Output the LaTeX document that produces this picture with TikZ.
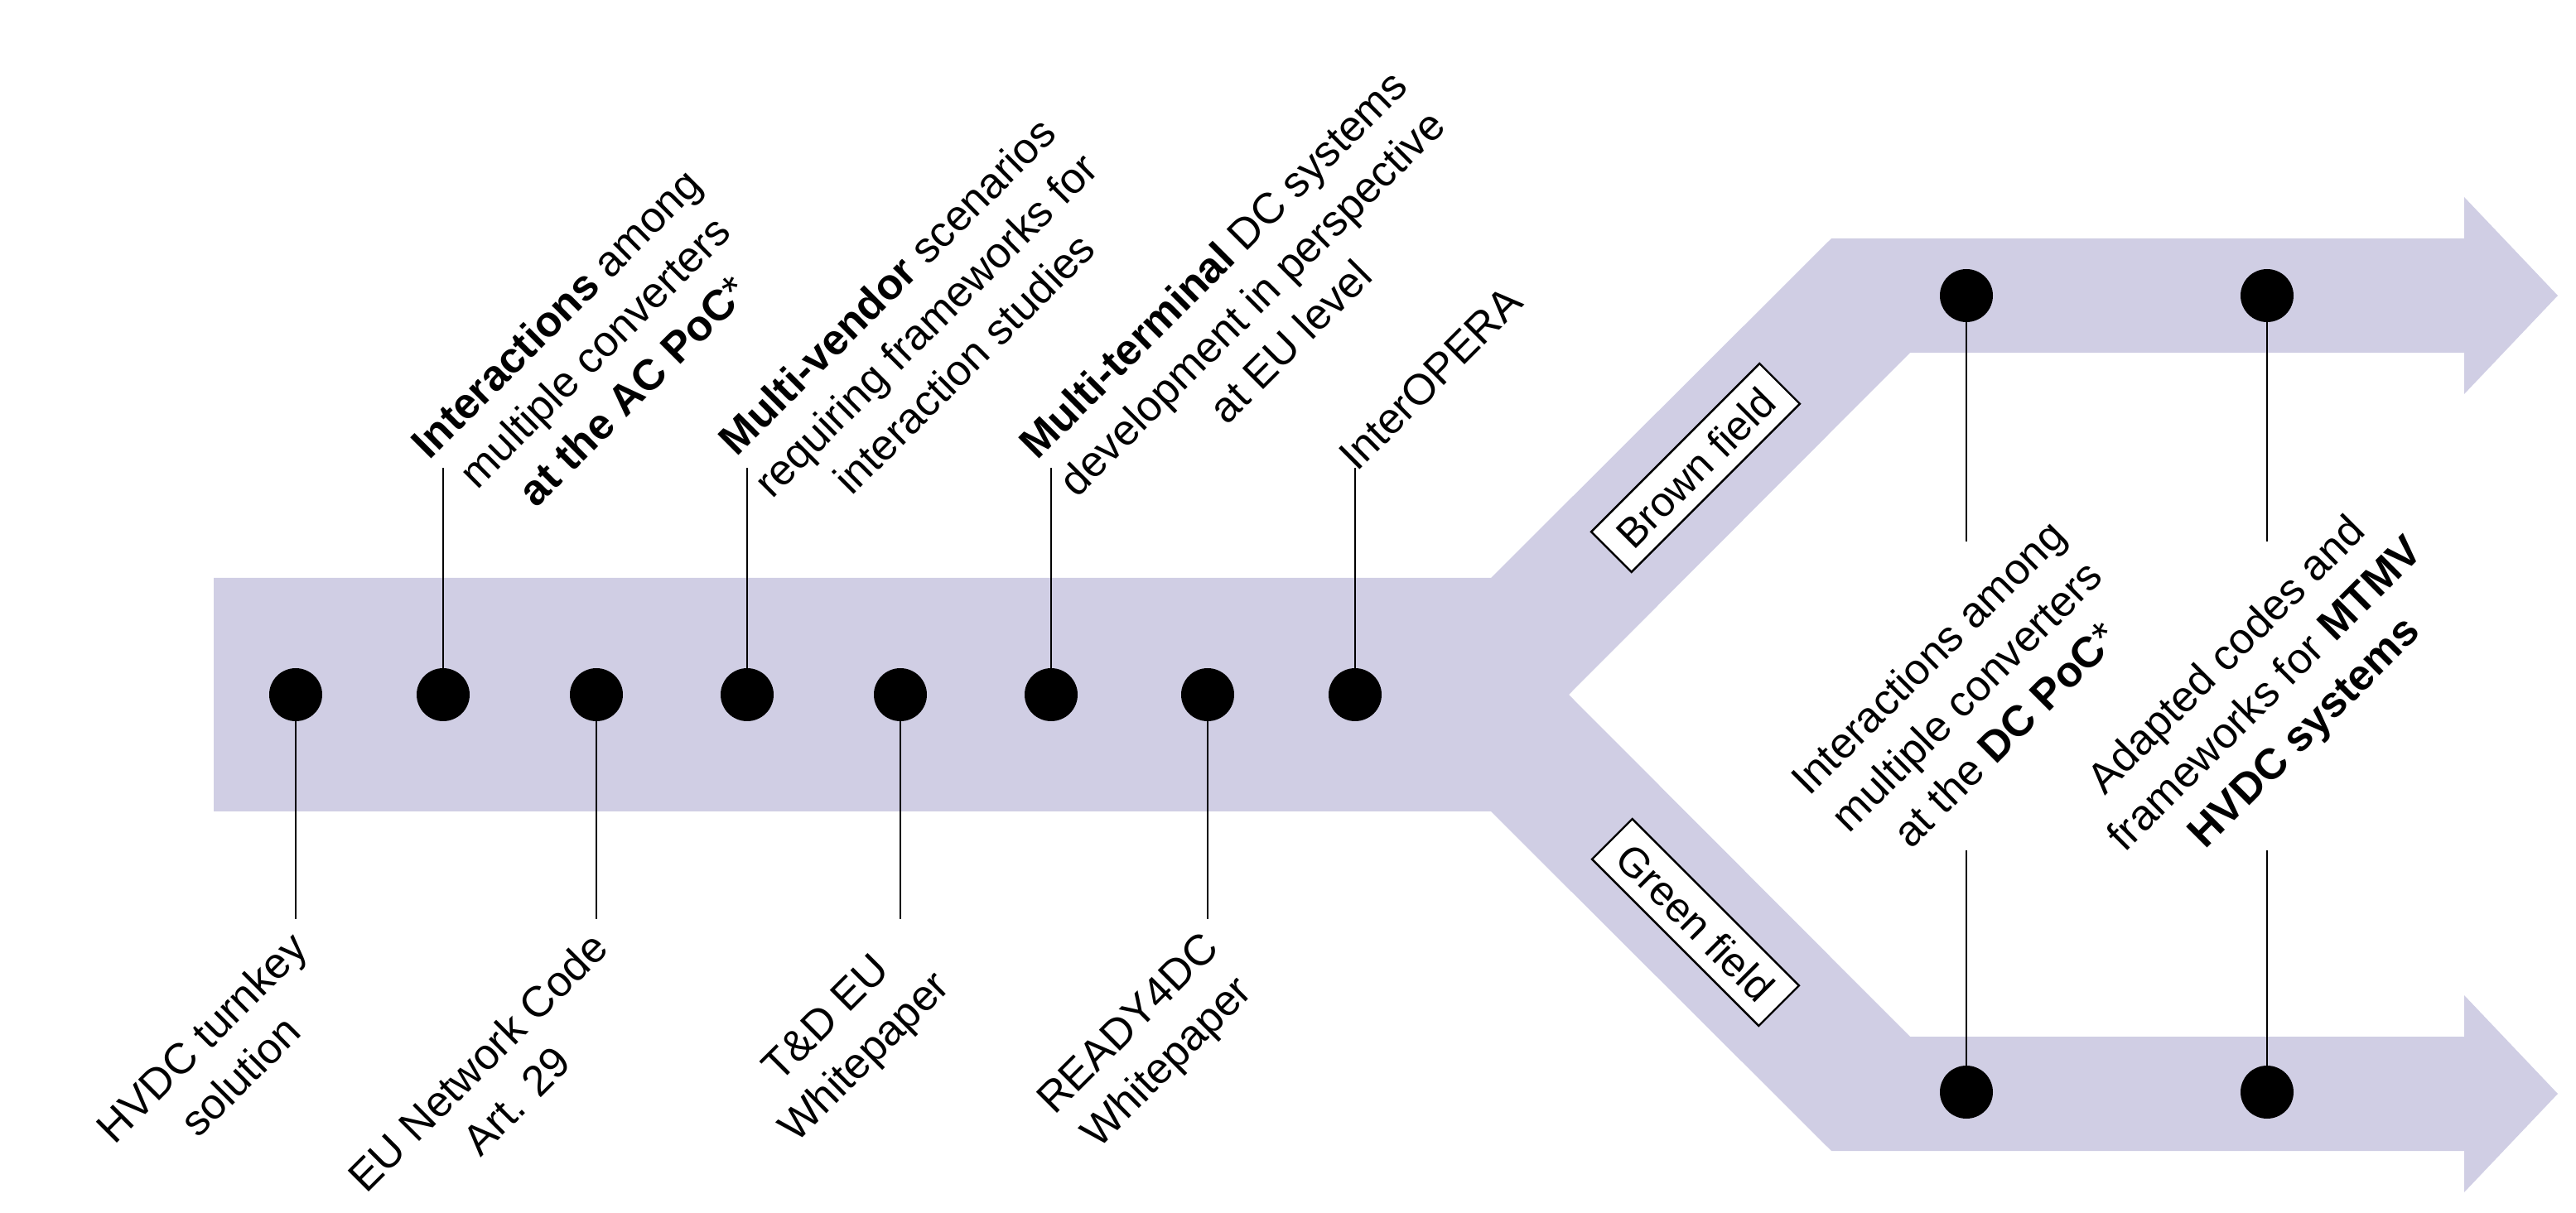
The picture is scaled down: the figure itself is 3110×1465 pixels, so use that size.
\documentclass[tikz,border=0pt]{standalone}
\usepackage{fontspec}
\setmainfont{Liberation Sans}
\definecolor{band}{RGB}{208,206,228}
\begin{document}
\begin{tikzpicture}[x=0.25pt,y=-0.25pt,
  dot/.style={circle,fill=black,inner sep=0pt,minimum width=15pt,minimum height=16pt},
  lbl/.style={font=\fontsize{13}{16.5}\selectfont,align=center,inner sep=1pt},
  up/.style={lbl,rotate=45,anchor=north west},
  dn/.style={lbl,rotate=45,anchor=north east},
  mid/.style={lbl,rotate=45,anchor=center},
  tag/.style={draw=black,fill=white,line width=0.6pt,font=\fontsize{12.5}{14}\selectfont,inner xsep=5pt,inner ysep=4pt},
  conn/.style={line width=0.7pt}]
\useasboundingbox (0,0) rectangle (3110,1465);
% band
\fill[band] (258,698) -- (1800,698) -- (2211,288) -- (2975,288) -- (2975,238) -- (3088,357)
  -- (2975,476) -- (2975,426) -- (2306,426) -- (1894,839) -- (2306,1252) -- (2975,1252)
  -- (2975,1202) -- (3088,1321) -- (2975,1440) -- (2975,1390) -- (2211,1390) -- (1800,980)
  -- (258,980) -- cycle;
% dots
\foreach \n/\x in {1/357,2/535,3/720,4/902,5/1087,6/1269,7/1458,8/1636}
  \node[dot] (d\n) at (\x,839) {};
\node[dot] (u1) at (2374,357) {};
\node[dot] (u2) at (2737,357) {};
\node[dot] (l1) at (2374,1319) {};
\node[dot] (l2) at (2737,1319) {};
% line ends
\foreach \n/\x in {2/535,4/902,6/1269,8/1636} \coordinate (t\n) at (\x,565);
\foreach \n/\x in {1/357,3/720,5/1087,7/1458} \coordinate (t\n) at (\x,1110);
\coordinate (tu1) at (2374,654); \coordinate (tu2) at (2737,654);
\coordinate (tl1) at (2374,1027); \coordinate (tl2) at (2737,1027);
\foreach \n in {1,...,8} \draw[conn] (d\n.center) -- (t\n);
\draw[conn] (u1.center) -- (tu1); \draw[conn] (u2.center) -- (tu2);
\draw[conn] (l1.center) -- (tl1); \draw[conn] (l2.center) -- (tl2);
% labels
\node[up] (a2) at ([shift={(-50,-35)}]t2) {\textbf{Interactions} among\\multiple converters\\\textbf{at the AC PoC}*};
\node[up] (a4) at ([shift={(-50,-35)}]t4) {\textbf{Multi-vendor} scenarios\\requiring frameworks for\\interaction studies};
\node[up] (a6) at ([shift={(-50,-35)}]t6) {\textbf{Multi-terminal} DC systems\\development in perspective\\at EU level};
\node[up] (a8) at ([shift={(-30,-20)}]t8) {InterOPERA};
\node[dn] (a1) at ([shift={(-10,5)}]t1) {HVDC turnkey\\solution};
\node[dn] (a3) at ([shift={(-10,5)}]t3) {EU Network Code\\Art. 29};
\node[dn] (a5) at ([shift={(-10,5)}]t5) {T\&D EU\\Whitepaper};
\node[dn] (a7) at ([shift={(-10,5)}]t7) {READY4DC\\Whitepaper};
\node[mid] (m1) at (2374,840) {Interactions among\\multiple converters\\at the \textbf{DC PoC}*};
\node[mid] (m2) at (2737,840) {Adapted codes and\\frameworks for \textbf{MTMV}\\\textbf{HVDC systems}};
\node[tag,rotate=45] (bf) at (2047,565) {Brown field};
\node[tag,rotate=-45] (gf) at (2047,1114) {Green field};
\end{tikzpicture}
\end{document}
